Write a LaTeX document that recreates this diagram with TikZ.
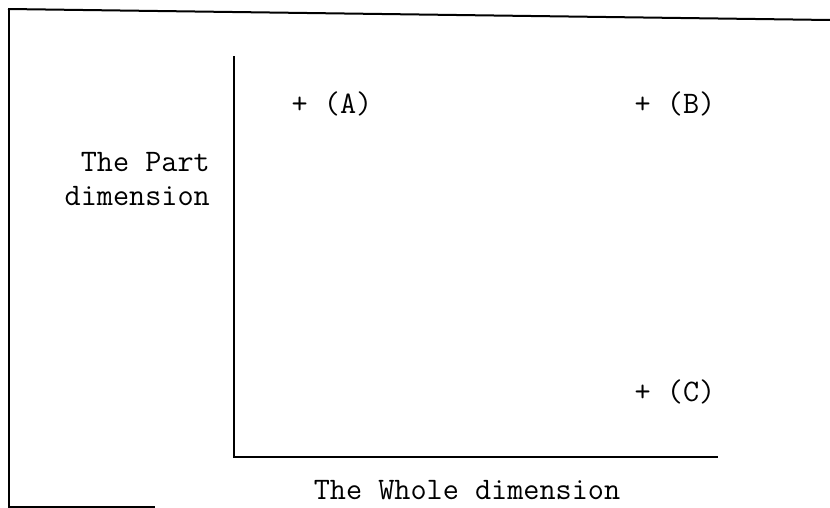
\documentclass[tikz,border=0pt]{standalone}
\usepackage{fontspec}
\usepackage{tikz}
\usetikzlibrary{positioning}

\begin{document}
\begin{tikzpicture}[
  x=1pt, y=-1pt,
  txt/.style={font=\ttfamily\fontsize{31.3}{34}\selectfont, inner sep=0pt},
  axis/.style={line width=2.8pt, line cap=rect},
  frame/.style={line width=2pt}
]
\useasboundingbox (0,0) rectangle (830,508);
% frame of the scanned figure
\draw[frame] (8,9) -- (830,20);
\draw[frame] (9,9) -- (9,507) -- (155,507);
% axes
\coordinate (ytop) at (234,57);
\coordinate (origin) at (234,457);
\coordinate (xend) at (717,457);
\draw[axis] (ytop) -- (origin) -- (xend);
% labels
\node[txt, align=right, anchor=east] (partlabel) at (210,179) {The Part\\dimension};
\node[txt] (wholelabel) at (467,490) {The Whole dimension};
% points
\node[txt] (ptA) at (332,104) {+ (A)};
\node[txt] (ptB) at (675,104) {+ (B)};
\node[txt] (ptC) at (675,392) {+ (C)};
\end{tikzpicture}
\end{document}
